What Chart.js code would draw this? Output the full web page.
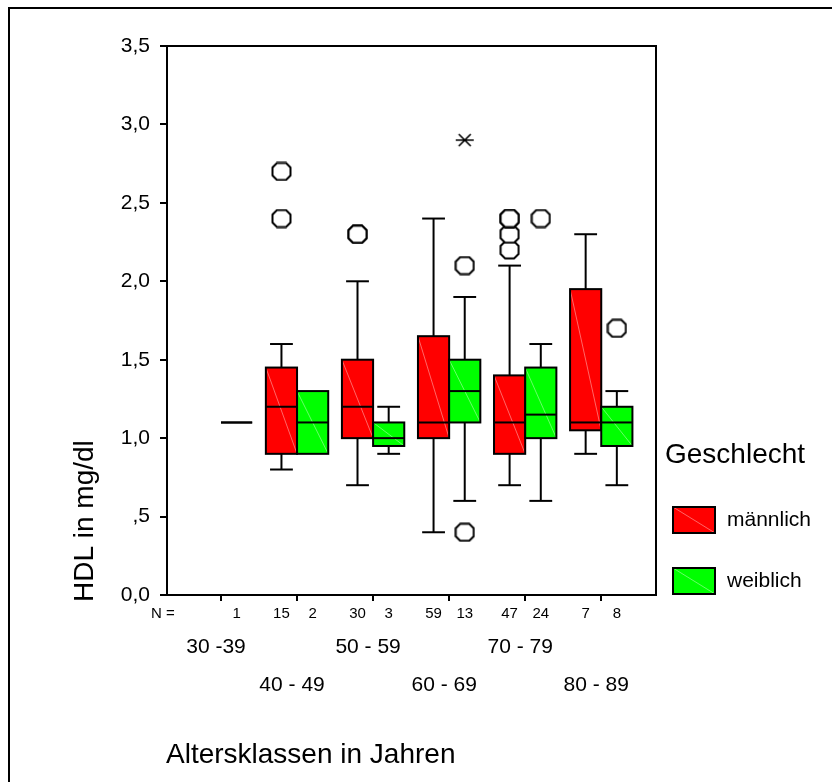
<!DOCTYPE html>
<html>
<head>
<meta charset="utf-8">
<script src="https://cdn.jsdelivr.net/npm/chart.js@4.4.1/dist/chart.umd.min.js"></script>
<style>
  html, body { margin: 0; padding: 0; background: #fff; }
  canvas { display: block; }
</style>
</head>
<body>
<canvas id="hdlChart" width="832" height="782"></canvas>
<script>
// HDL je Altersklasse und Geschlecht (Boxplot)
const ageGroups = ['30 -39', '40 - 49', '50 - 59', '60 - 69', '70 - 79', '80 - 89'];
const yTicks = [0, 0.5, 1, 1.5, 2, 2.5, 3, 3.5];

// männlich (keine Fälle 30-39)
const maleN       = [null, 15, 30, 59, 47, 7];
const maleMin     = [null, 0.8, 0.7, 0.4, 0.7, 0.9];
const maleQ1      = [null, 0.9, 1.0, 1.0, 0.9, 1.05];
const maleMedian  = [null, 1.2, 1.2, 1.1, 1.1, 1.1];
const maleQ3      = [null, 1.45, 1.5, 1.65, 1.4, 1.95];
const maleMax     = [null, 1.6, 2.0, 2.4, 2.1, 2.3];
const maleOutliers = [[], [2.4, 2.7], [2.3, 2.3], [], [2.2, 2.3, 2.4, 2.4], []];
const maleExtremes = [[], [], [], [], [], []];

// weiblich
const femaleN       = [1, 2, 3, 13, 24, 8];
const femaleMin     = [1.1, 0.9, 0.9, 0.6, 0.6, 0.7];
const femaleQ1      = [1.1, 0.9, 0.95, 1.1, 1.0, 0.95];
const femaleMedian  = [1.1, 1.1, 1.0, 1.3, 1.15, 1.1];
const femaleQ3      = [1.1, 1.3, 1.1, 1.5, 1.45, 1.2];
const femaleMax     = [1.1, 1.3, 1.2, 1.9, 1.6, 1.3];
const femaleOutliers = [[], [], [], [0.4, 2.1], [2.4], [1.7]];
const femaleExtremes = [[], [], [], [2.9], [], []];

const FONT = '"Liberation Sans", Arial, sans-serif';
const RED = '#ff0000';
const GREEN = '#00ff00';
const BOX_W = 0.41;   // box width in axis units
const CAP_W = 0.3;    // whisker cap width

Chart.defaults.font.family = FONT;
Chart.defaults.color = '#000';

const sexes = [
  { name: 'männlich', color: RED, shift: -BOX_W / 2, n: maleN, min: maleMin, q1: maleQ1,
    med: maleMedian, q3: maleQ3, max: maleMax, out: maleOutliers, ext: maleExtremes },
  { name: 'weiblich', color: GREEN, shift: BOX_W / 2, n: femaleN, min: femaleMin, q1: femaleQ1,
    med: femaleMedian, q3: femaleQ3, max: femaleMax, out: femaleOutliers, ext: femaleExtremes }
];

// asterisk used for extreme values
function makeStar() {
  const c = document.createElement('canvas');
  c.width = 20; c.height = 16;
  const g = c.getContext('2d');
  g.strokeStyle = '#000';
  g.lineWidth = 1.6;
  g.beginPath();
  g.moveTo(1, 8); g.lineTo(19, 8);
  g.moveTo(4, 2); g.lineTo(16, 14);
  g.moveTo(4, 14); g.lineTo(16, 2);
  g.stroke();
  return c;
}

// small octagon used for outliers
function makeRing() {
  const c = document.createElement('canvas');
  c.width = 21; c.height = 20;
  const g = c.getContext('2d');
  const pts = [[6, 1.5], [15, 1.5], [19.5, 6], [19.5, 14], [15, 18.5], [6, 18.5], [1.5, 14], [1.5, 6]];
  g.beginPath();
  pts.forEach(([px, py], k) => (k ? g.lineTo(px, py) : g.moveTo(px, py)));
  g.closePath();
  g.fillStyle = '#fff';
  g.fill();
  g.strokeStyle = '#000';
  g.lineWidth = 2;
  g.stroke();
  return c;
}

function pointsFor(sex, key) {
  const pts = [];
  sex[key].forEach((vals, i) => vals.forEach(v => pts.push({ x: i + 1 + sex.shift, y: v })));
  return pts;
}

const ring = makeRing();
const star = makeStar();
const datasets = [];
sexes.forEach(s => {
  datasets.push({
    label: s.name + ' Ausreißer',
    data: pointsFor(s, 'out'),
    pointStyle: ring,
    pointRadius: 10
  });
  datasets.push({
    label: s.name + ' Extremwerte',
    data: pointsFor(s, 'ext'),
    pointStyle: star,
    pointRadius: 8
  });
});

function hLine(ctx, x1, x2, yy) {
  ctx.beginPath(); ctx.moveTo(x1, yy); ctx.lineTo(x2, yy); ctx.stroke();
}
function vLine(ctx, xx, y1, y2) {
  ctx.beginPath(); ctx.moveTo(xx, y1); ctx.lineTo(xx, y2); ctx.stroke();
}
function diag(ctx, x1, y1, x2, y2) {
  if (y2 - y1 < 2) return;
  ctx.beginPath(); ctx.moveTo(x1, y1); ctx.lineTo(x2, y2); ctx.stroke();
}

function drawBox(ctx, x, y, s, i) {
  if (s.med[i] == null) return;
  const c = i + 1 + s.shift;
  const l = x.getPixelForValue(c - BOX_W / 2);
  const r = x.getPixelForValue(c + BOX_W / 2);
  const cx = x.getPixelForValue(c);
  const capL = x.getPixelForValue(c - CAP_W / 2);
  const capR = x.getPixelForValue(c + CAP_W / 2);
  const top = y.getPixelForValue(s.q3[i]);
  const bot = y.getPixelForValue(s.q1[i]);

  ctx.save();
  ctx.strokeStyle = '#000';
  ctx.lineWidth = 2;
  if (s.max[i] > s.q3[i]) {
    const yMax = y.getPixelForValue(s.max[i]);
    vLine(ctx, cx, top, yMax);
    hLine(ctx, capL, capR, yMax);
  }
  if (s.min[i] < s.q1[i]) {
    const yMin = y.getPixelForValue(s.min[i]);
    vLine(ctx, cx, bot, yMin);
    hLine(ctx, capL, capR, yMin);
  }
  ctx.fillStyle = s.color;
  ctx.fillRect(l, top, r - l, bot - top);
  // faint diagonal seen in the fills
  ctx.strokeStyle = 'rgba(255,255,255,0.4)';
  ctx.lineWidth = 1;
  diag(ctx, l, top, r, bot);
  ctx.strokeStyle = '#000';
  ctx.lineWidth = 2;
  ctx.strokeRect(l, top, r - l, bot - top);
  hLine(ctx, l, r, y.getPixelForValue(s.med[i]));
  ctx.restore();
}

const boxPlugin = {
  id: 'boxes',
  beforeDatasetsDraw(chart) {
    const { ctx, scales: { x, y } } = chart;
    ageGroups.forEach((g, i) => sexes.forEach(s => drawBox(ctx, x, y, s, i)));
  }
};

const decorPlugin = {
  id: 'decor',
  afterDraw(chart) {
    const { ctx, chartArea: a, scales: { x } } = chart;
    ctx.save();
    ctx.strokeStyle = '#000';
    ctx.lineWidth = 2;
    // outer frame (runs off the right and bottom)
    ctx.strokeRect(9, 8, 900, 900);
    // plot frame
    ctx.strokeRect(a.left, a.top, a.right - a.left, a.bottom - a.top);

    ctx.fillStyle = '#000';
    ctx.textBaseline = 'middle';
    ctx.textAlign = 'center';

    // case counts
    ctx.font = '15px ' + FONT;
    ctx.fillText('N =', 163, 614);
    ageGroups.forEach((g, i) => sexes.forEach(s => {
      if (s.n[i] == null) return;
      ctx.fillText(String(s.n[i]), x.getPixelForValue(i + 1 + s.shift), 614);
    }));

    // age classes, staggered in two rows
    ctx.font = '21px ' + FONT;
    ageGroups.forEach((g, i) => {
      ctx.fillText(g, x.getPixelForValue(i + 1) - 5, i % 2 === 0 ? 647 : 685);
    });

    // axis titles
    ctx.textAlign = 'left';
    ctx.textBaseline = 'alphabetic';
    ctx.font = '28px ' + FONT;
    ctx.fillText('Altersklassen in Jahren', 166, 763);
    ctx.save();
    ctx.translate(93, 602);
    ctx.rotate(-Math.PI / 2);
    ctx.fillText('HDL in mg/dl', 0, 0);
    ctx.restore();

    // legend
    ctx.fillText('Geschlecht', 665, 463);
    const items = [[sexes[0], 507, 533], [sexes[1], 568, 594]];
    items.forEach(([s, t, b]) => {
      ctx.fillStyle = s.color;
      ctx.fillRect(673, t, 42, b - t);
      ctx.strokeStyle = 'rgba(255,255,255,0.4)';
      ctx.lineWidth = 1;
      diag(ctx, 673, t, 715, b);
      ctx.strokeStyle = '#000';
      ctx.lineWidth = 2;
      ctx.strokeRect(673, t, 42, b - t);
      ctx.fillStyle = '#000';
      ctx.font = '21px ' + FONT;
      ctx.textBaseline = 'middle';
      ctx.fillText(s.name, 727, (t + b) / 2);
    });
    ctx.restore();
  }
};

new Chart(document.getElementById('hdlChart'), {
  type: 'scatter',
  data: { datasets },
  plugins: [boxPlugin, decorPlugin],
  options: {
    responsive: false,
    animation: false,
    layout: { padding: { left: 0, right: 176, top: 46, bottom: 0 } },
    plugins: {
      legend: { display: false },
      tooltip: { enabled: false }
    },
    scales: {
      x: {
        type: 'linear',
        min: 0.29,
        max: 6.72,
        afterBuildTicks: axis => { axis.ticks = ageGroups.map((g, i) => ({ value: i + 1 })); },
        afterFit: scale => { scale.height = 187; },
        ticks: { display: false },
        grid: { drawOnChartArea: false, drawTicks: true, tickLength: 6, color: '#000', lineWidth: 2 },
        border: { display: true, color: '#000', width: 2 }
      },
      y: {
        min: 0,
        max: 3.5,
        afterBuildTicks: axis => { axis.ticks = yTicks.map(v => ({ value: v })); },
        afterFit: scale => { scale.width = 167; },
        ticks: {
          padding: 10,
          font: { size: 21 },
          color: '#000',
          callback: v => {
            const s = v.toFixed(1).replace('.', ',');
            return v > 0 && v < 1 ? s.slice(1) : s;
          }
        },
        grid: { drawOnChartArea: false, drawTicks: true, tickLength: 7, color: '#000', lineWidth: 2 },
        border: { display: true, color: '#000', width: 2 }
      }
    }
  }
});
</script>
</body>
</html>
